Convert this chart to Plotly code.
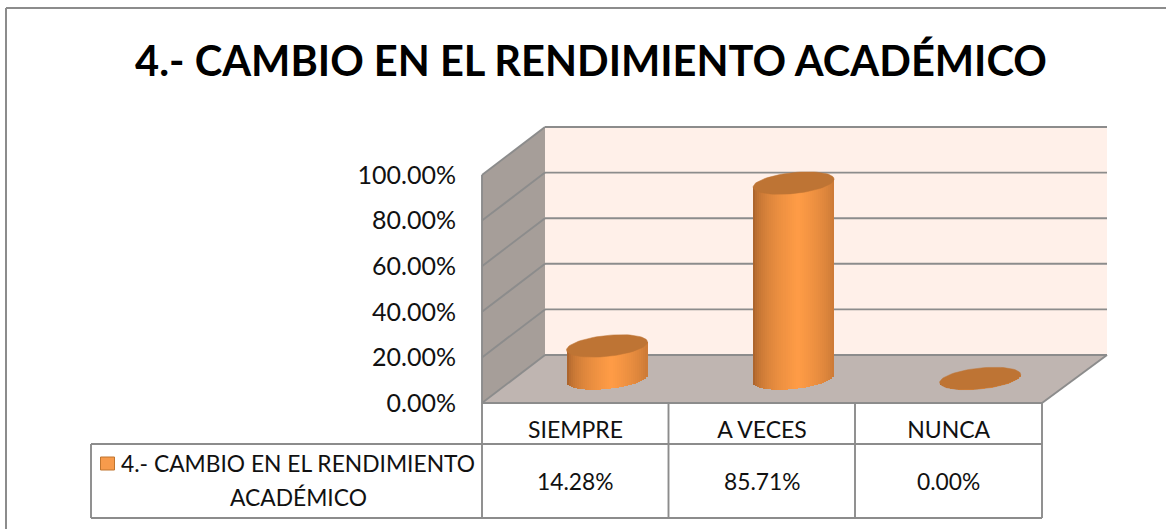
import math
import plotly.graph_objects as go

# ---- data ----
categories = ["SIEMPRE", "A VECES", "NUNCA"]
values = [14.28, 85.71, 0.00]
series_name = "4.- CAMBIO EN EL RENDIMIENTO ACADÉMICO"
title_text = "4.- CAMBIO EN EL RENDIMIENTO ACADÉMICO"
y_ticks = [0, 20, 40, 60, 80, 100]

# ---- page geometry (pixels) ----
W, H = 1166, 529
PX_PER_PCT = 2.28
CAT_STEP = 186.6
FRONT_X0, FRONT_Y0 = 575.5, 403.0   # first category / zero on the front plane
BAR_X0, BAR_Y0 = 607.0, 378.5       # first bar centre / zero on the bar plane
BACK_LEFT, BACK_RIGHT, BACK_Y0 = 545.0, 1107.0, 355.0
FRONT_LEFT, FRONT_RIGHT = 482.0, 1042.0
LINE = "#8c8c8c"
FONT = "Lato"


def xr(x0):
    return [-x0 / CAT_STEP, (W - x0) / CAT_STEP]


def yr(y0):
    return [-(H - y0) / PX_PER_PCT, y0 / PX_PER_PCT]


def px(x):
    return x / W


def py(y):
    return 1 - y / H


def poly(points, fill, line=None, lw=0):
    path = "M " + " L ".join(f"{px(x):.5f} {py(y):.5f}" for x, y in points) + " Z"
    return dict(type="path", xref="paper", yref="paper", path=path, fillcolor=fill,
                line=dict(color=line or fill, width=lw), layer="below")


def seg(x0, y0, x1, y1, lw=1.9):
    return dict(type="line", xref="paper", yref="paper", x0=px(x0), y0=py(y0), x1=px(x1), y1=py(y1),
                line=dict(color=LINE, width=lw), layer="below")


top = max(y_ticks) * PX_PER_PCT
shapes = [
    # walls and floor
    poly([(BACK_LEFT, BACK_Y0 - top), (BACK_RIGHT, BACK_Y0 - top), (BACK_RIGHT, BACK_Y0), (BACK_LEFT, BACK_Y0)], "#FFF0E9"),
    poly([(FRONT_LEFT, FRONT_Y0 - top), (BACK_LEFT, BACK_Y0 - top), (BACK_LEFT, BACK_Y0), (FRONT_LEFT, FRONT_Y0)], "#A69E99"),
    poly([(FRONT_LEFT, FRONT_Y0), (BACK_LEFT, BACK_Y0), (BACK_RIGHT, BACK_Y0), (FRONT_RIGHT, FRONT_Y0)], "#BFB5B1"),
]
for t in y_ticks:
    shapes.append(seg(BACK_LEFT, BACK_Y0 - t * PX_PER_PCT, BACK_RIGHT, BACK_Y0 - t * PX_PER_PCT))
    shapes.append(seg(FRONT_LEFT, FRONT_Y0 - t * PX_PER_PCT, BACK_LEFT, BACK_Y0 - t * PX_PER_PCT))
shapes += [
    seg(FRONT_LEFT, FRONT_Y0, FRONT_RIGHT, FRONT_Y0),
    seg(FRONT_RIGHT, FRONT_Y0, BACK_RIGHT, BACK_Y0),
    seg(FRONT_LEFT, FRONT_Y0 - top, FRONT_LEFT, 518),
    # data table
    seg(91, 444, FRONT_RIGHT, 444),
    seg(91, 518, FRONT_RIGHT, 518),
    seg(91, 444, 91, 518),
    seg(668.5, FRONT_Y0, 668.5, 518),
    seg(855, FRONT_Y0, 855, 518),
    seg(FRONT_RIGHT, FRONT_Y0, FRONT_RIGHT, 518),
    # legend key
    dict(type="rect", xref="paper", yref="paper", x0=px(100.5), x1=px(114.5), y0=py(470), y1=py(457),
         fillcolor="#F79B4C", line=dict(color="#C0752F", width=1)),
    # chart frame
    seg(6, 8, W, 8, 2),
    seg(6, 8, 6, H, 2),
]

fig = go.Figure()

# front-plane axes carry the tick labels
fig.add_trace(go.Scatter(x=[0, 1, 2], y=values, mode="markers", marker=dict(opacity=0),
                         xaxis="x", yaxis="y", showlegend=False, hoverinfo="skip"))

# cylinder body as narrow shaded bars, on the bar plane
HALF_W = 40.5 / CAT_STEP
B = 10.5 / PX_PER_PCT
S = 4.0 / PX_PER_PCT
N = 40


def shade(u):
    # u from -1 to 1; brightest slightly right of centre
    dark, light = (150, 86, 38), (255, 156, 70)
    f = max(0.0, 1 - abs(u - 0.1) / 1.1)
    f = f ** 0.4
    return "rgb(%d,%d,%d)" % tuple(round(d + (l - d) * f) for d, l in zip(dark, light))


for k in range(N):
    u0 = -1 + 2 * k / N
    u = u0 + 1 / N
    depth = B * math.sqrt(max(0.0, 1 - u * u))
    base = [S * u - depth for _ in values]
    tops = [v + S * u for v in values]
    fig.add_trace(go.Bar(
        x=[0, 1, 2], y=[t - b for t, b in zip(tops, base)], base=base,
        width=2 * HALF_W / N * 1.15, offset=u0 * HALF_W,
        marker=dict(color=shade(u), line=dict(width=0)),
        xaxis="x2", yaxis="y2", showlegend=False, hoverinfo="skip", name=series_name,
    ))

# cylinder tops
ts = [2 * math.pi * j / 72 for j in range(73)]
for i, v in enumerate(values):
    fig.add_trace(go.Scatter(
        x=[i + HALF_W * math.cos(t) for t in ts],
        y=[v + B * math.sin(t) + S * math.cos(t) for t in ts],
        mode="lines", fill="toself", fillcolor="#BE7434", line=dict(color="#BE7434", width=0.5),
        xaxis="x2", yaxis="y2", showlegend=False, hoverinfo="skip",
    ))

# table text
table_font = dict(family=FONT, size=22.8, color="#111111")
annotations = [
    dict(text=f"{v:.2f}%", xref="x", yref="paper", x=i, y=py(481), showarrow=False, font=table_font,
         xanchor="center", yanchor="middle")
    for i, v in enumerate(values)
]
annotations.append(dict(text="4.- CAMBIO EN EL RENDIMIENTO", xref="paper", yref="paper", x=px(477), y=py(463),
                        xanchor="right", yanchor="middle", showarrow=False, font=table_font))
annotations.append(dict(text="ACADÉMICO", xref="paper", yref="paper", x=px(299), y=py(497),
                        xanchor="center", yanchor="middle", showarrow=False, font=table_font))

fig.update_layout(
    width=W, height=H, autosize=False, margin=dict(l=0, r=0, t=0, b=0),
    paper_bgcolor="white", plot_bgcolor="rgba(0,0,0,0)", barmode="overlay", bargap=0, showlegend=False,
    title=dict(text=f"<b>{title_text}</b>", x=591 / W, xanchor="center", y=py(61), yanchor="middle",
               font=dict(family=FONT, size=41.6, color="#000000")),
    shapes=shapes, annotations=annotations,
    xaxis=dict(domain=[0, 1], range=xr(FRONT_X0), tickmode="array", tickvals=[0, 1, 2], ticktext=categories,
               anchor="free", position=py(FRONT_Y0), side="bottom", showgrid=False, zeroline=False, showline=False,
               ticks="outside", ticklen=6, tickcolor="rgba(0,0,0,0)", tickfont=dict(family=FONT, size=23, color="#111111")),
    yaxis=dict(domain=[0, 1], range=yr(FRONT_Y0), tickmode="array", tickvals=y_ticks,
               ticktext=[f"{t:.2f}%" for t in y_ticks], anchor="free", position=px(FRONT_LEFT), side="left",
               showgrid=False, zeroline=False, showline=False, ticks="outside", ticklen=21,
               tickcolor="rgba(0,0,0,0)", tickfont=dict(family=FONT, size=25, color="#111111")),
    xaxis2=dict(domain=[0, 1], range=xr(BAR_X0), visible=False, overlaying="x", anchor="y2"),
    yaxis2=dict(domain=[0, 1], range=yr(BAR_Y0), visible=False, overlaying="y", anchor="x2"),
)

fig.write_html("out.html", config=dict(displayModeBar=False),
               post_script="document.body.style.margin='0';document.documentElement.style.overflow='hidden';")
